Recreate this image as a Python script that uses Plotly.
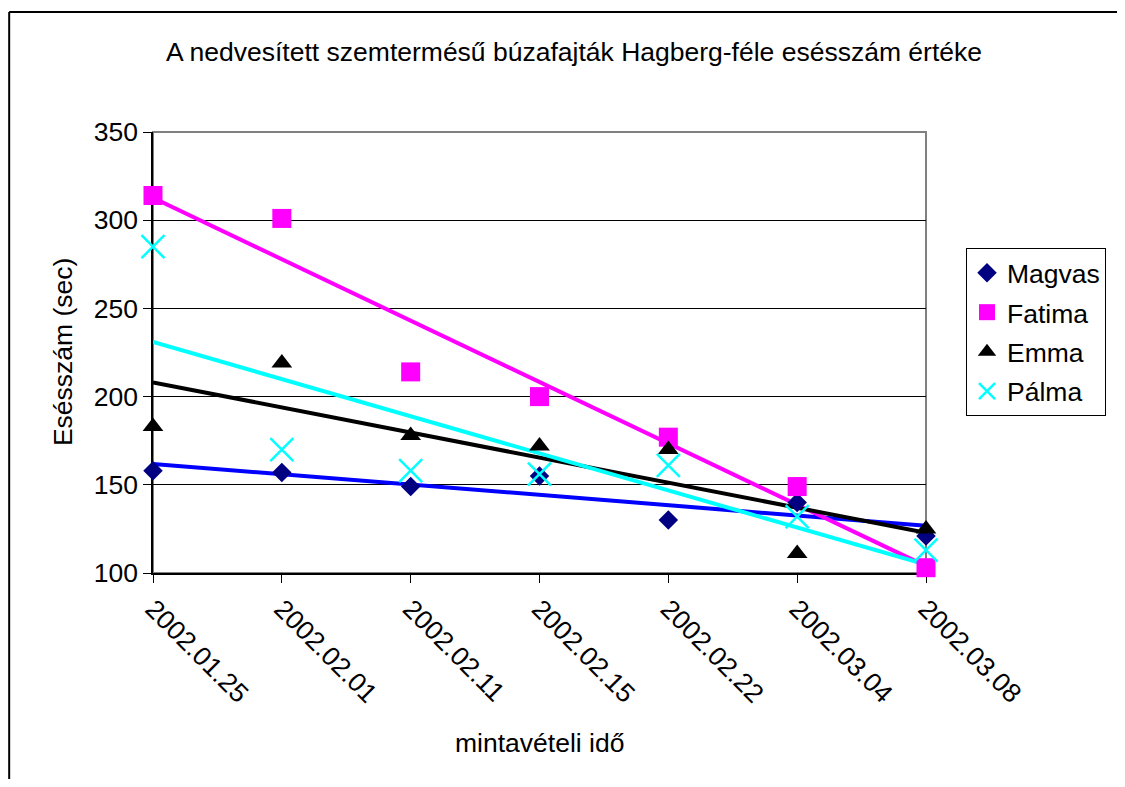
import numpy as np
import plotly.graph_objects as go

dates = ["2002.01.25", "2002.02.01", "2002.02.11", "2002.02.15",
         "2002.02.22", "2002.03.04", "2002.03.08"]
magvas = [158, 157, 149, 155, 130, 140, 121]
fatima = [314, 301, 214, 200, 177, 149, 103]
emma = [183, 219, 178, 172, 170, 111, 125]
palma = [285, 170, 158, 156, 161, 132, 113]

series = [
    ("Magvas", magvas, "#000080", "diamond", 15, "#0000FF"),
    ("Fatima", fatima, "#FF00FF", "square", 19, "#FF00FF"),
    ("Emma", emma, "#000000", "triangle-up", 18, "#000000"),
    ("Pálma", palma, "#00FFFF", "x-thin-open", 23, "#00FFFF"),
]

FONT = "Liberation Sans, Arial, sans-serif"
FS = 26.5
W, H = 1109, 771  # page body has an 8px margin
fig = go.Figure()

idx = np.arange(len(dates))
# trend lines (linear regression from data)
for name, vals, mcol, sym, size, lcol in series:
    k, b = np.polyfit(idx, np.array(vals, dtype=float), 1)
    fig.add_trace(go.Scatter(
        x=dates, y=k * idx + b, mode="lines",
        line=dict(color=lcol, width=4), showlegend=False,
        hoverinfo="skip"))

for name, vals, mcol, sym, size, lcol in series:
    if sym == "x-thin-open":
        marker = dict(symbol=sym, size=size, color=mcol,
                      line=dict(color=mcol, width=2.5))
    else:
        marker = dict(symbol=sym, size=size, color=mcol,
                      line=dict(width=0))
    fig.add_trace(go.Scatter(
        x=dates, y=vals, mode="markers", name=name, cliponaxis=False,
        marker=marker, legendgroup=name))

bx0 = (9 - 153) / 774
by1 = (573 - 12) / 441
fig.update_layout(
    width=W, height=H,
    margin=dict(l=145, r=190, t=124, b=206),
    paper_bgcolor="white", plot_bgcolor="white",
    font=dict(family=FONT, size=FS, color="black"),
    title=dict(text="A nedvesített szemtermésű búzafajták Hagberg-féle esésszám értéke",
               x=566 / W, xanchor="center", y=1 - 44 / H, yanchor="middle",
               font=dict(size=FS, family=FONT, color="black")),
    showlegend=True,
    legend=dict(x=(966 - 153) / 774, xanchor="left",
                y=(573 - 248) / 441, yanchor="top",
                bordercolor="black", borderwidth=1,
                bgcolor="white", font=dict(size=FS, family=FONT),
                tracegroupgap=2, itemwidth=30),
    xaxis=dict(type="category", range=[0, 6], showgrid=False,
               showline=True, linecolor="black", linewidth=1.5,
               ticks="outside", ticklen=8, tickcolor="black",
               tickangle=45, tickfont=dict(size=FS),
               layer="below traces", zeroline=False),
    yaxis=dict(range=[100, 350], dtick=50, showgrid=True,
               gridcolor="black", gridwidth=1,
               showline=True, linecolor="black", linewidth=1.5,
               ticks="outside", ticklen=8, tickcolor="black",
               tickfont=dict(size=FS), layer="below traces",
               zeroline=False),
    annotations=[
        dict(text="Esésszám (sec)", xref="paper", yref="paper",
             x=(63 - 153) / 774, y=(573 - 352) / 441, textangle=-90,
             showarrow=False, xanchor="center", yanchor="middle",
             font=dict(size=FS)),
        dict(text="mintavételi idő", xref="paper", yref="paper",
             x=0.5, y=(573 - 743) / 441, showarrow=False,
             xanchor="center", yanchor="middle", font=dict(size=FS)),
    ],
    shapes=[
        dict(type="rect", xref="paper", yref="paper", x0=0, x1=1, y0=0, y1=1,
             line=dict(color="#808080", width=2), layer="below"),
        dict(type="line", xref="paper", yref="paper",
             x0=bx0, x1=bx0, y0=-1, y1=by1,
             line=dict(color="black", width=2), layer="below"),
        dict(type="line", xref="paper", yref="paper",
             x0=bx0, x1=2, y0=by1, y1=by1,
             line=dict(color="black", width=2), layer="below"),
    ],
)

fig.write_html("out.html")
